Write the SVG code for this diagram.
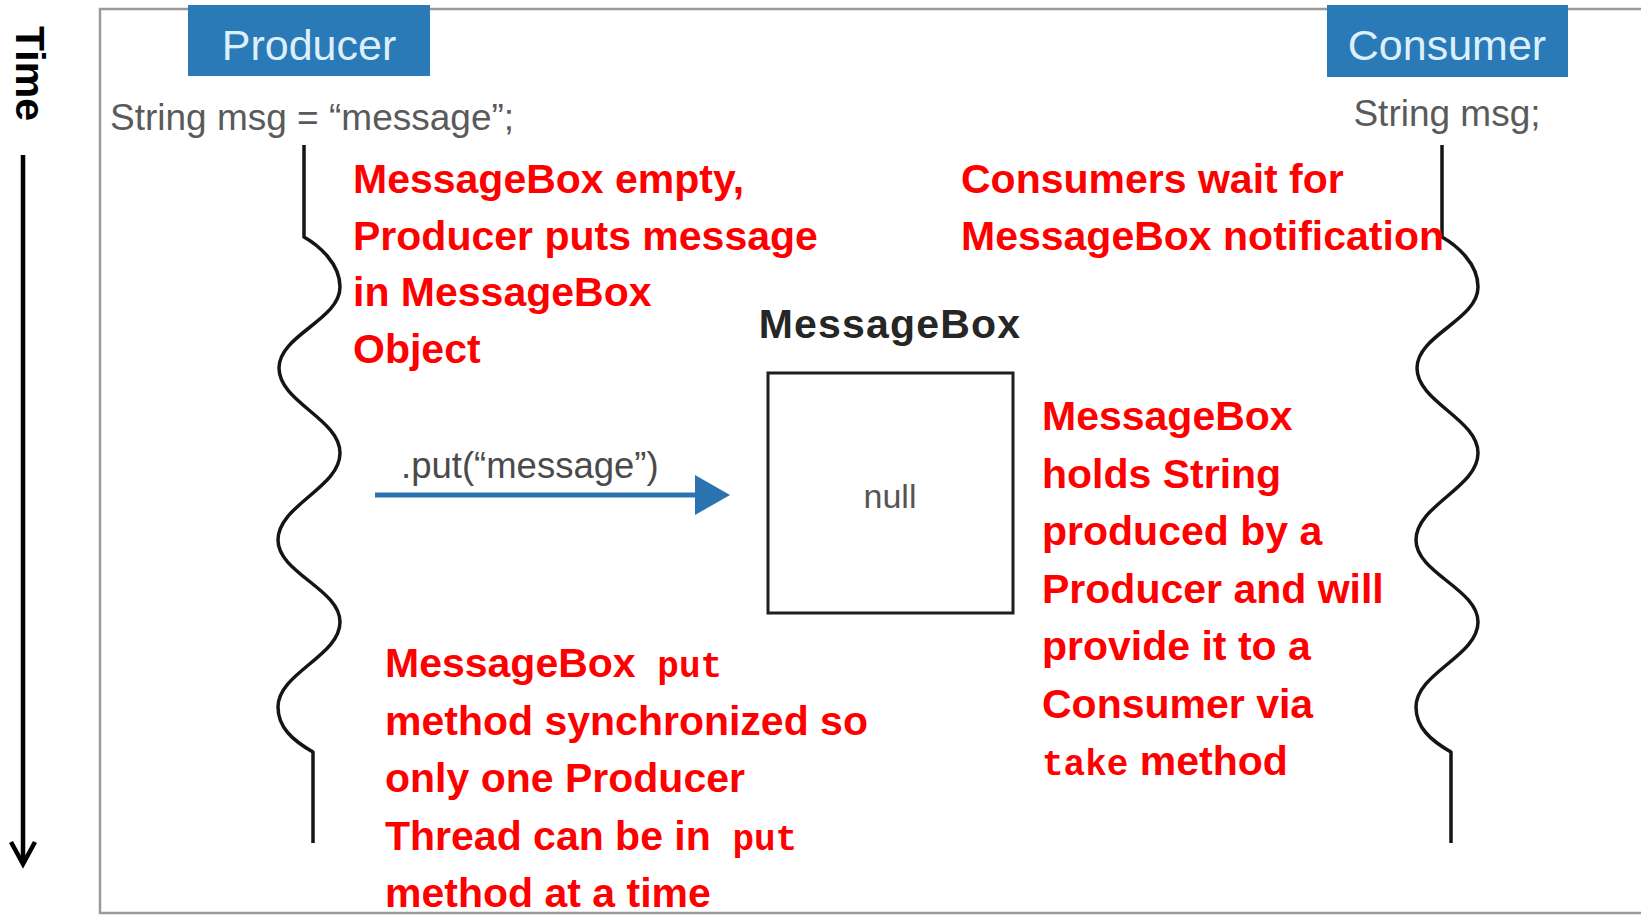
<svg xmlns="http://www.w3.org/2000/svg" xmlns:xlink="http://www.w3.org/1999/xlink" width="1641" height="916" viewBox="0 0 1641 916">
  <style>
    .frame { fill: #ffffff; stroke: #9a9a9a; stroke-width: 2.5; }
    .actor-box { fill: #2a7ab8; }
    .actor-label { font-family: "Liberation Sans", Arial, sans-serif; font-size: 43px; fill: #dcefFb; text-anchor: middle; }
    .code { font-family: "Liberation Sans", Arial, sans-serif; font-size: 37px; fill: #5a5a5a; }
    .lifeline { fill: none; stroke: #151515; stroke-width: 3.5; stroke-linejoin: round; }
    .note { font-family: "Liberation Sans", Arial, sans-serif; font-weight: bold; font-size: 41px; fill: #ff0000; }
    .mono { font-family: "Liberation Mono", "Courier New", monospace; font-weight: bold; font-size: 36px; }
    .box-title { font-family: "Liberation Sans", Arial, sans-serif; font-weight: bold; font-size: 41px; fill: #262626; letter-spacing: 1.2px; text-anchor: middle; }
    .box-value { font-family: "Liberation Sans", Arial, sans-serif; font-size: 34px; fill: #555555; text-anchor: middle; }
    .call-label { font-family: "Liberation Sans", Arial, sans-serif; font-size: 36.5px; fill: #4a4a4a; }
    .call-line { stroke: #2a72b0; stroke-width: 5; fill: none; }
    .axis { stroke: #000000; stroke-width: 4.5; fill: none; stroke-linecap: butt; }
  </style>
  <defs>
    <!-- wavy thread lifeline, drawn for the producer and shifted for the consumer -->
    <path id="thread-line" class="lifeline"
      d="M304,145 V237
         C318,245 340,263 340,287
         C340,320 279,335 279,368
         C279,402 340,419 340,453
         C340,488 278,505 278,540
         C278,573 340,589 340,622
         C340,656 278,673 278,707
         C278,727 292,740 313,752
         V843"/>
  </defs>

  <rect width="1641" height="916" fill="#ffffff"/>

  <!-- time axis on the left -->
  <g id="time-axis">
    <text x="0" y="0" transform="translate(16,26) rotate(90)" font-family="Liberation Sans, Arial, sans-serif" font-weight="bold" font-size="41" fill="#000">Time</text>
    <line class="axis" x1="23" y1="155" x2="23" y2="862"/>
    <polyline class="axis" points="11,842 23,864 35,842"/>
  </g>

  <!-- slide frame -->
  <rect id="frame" class="frame" x="100" y="9" width="1600" height="904"/>

  <g id="producer">
    <rect class="actor-box" x="188" y="5" width="242" height="71"/>
    <text class="actor-label" x="309" y="60">Producer</text>
    <text class="code" x="110" y="130">String msg = “message”;</text>
    <use xlink:href="#thread-line"/>
  </g>

  <g id="consumer">
    <rect class="actor-box" x="1327" y="5" width="241" height="72"/>
    <text class="actor-label" x="1447" y="60">Consumer</text>
    <text class="code" x="1447" y="126" text-anchor="middle">String msg;</text>
    <use xlink:href="#thread-line" transform="translate(1138,0)"/>
  </g>

  <g id="messagebox">
    <text class="box-title" x="890" y="338">MessageBox</text>
    <rect x="768" y="373" width="245" height="240" fill="#ffffff" stroke="#1e1e1e" stroke-width="3"/>
    <text class="box-value" x="890" y="508">null</text>
  </g>

  <g id="connectors">
    <line class="call-line" x1="375" y1="495" x2="697" y2="495"/>
    <polygon points="695,475 730,495 695,515" fill="#2a72b0"/>
    <text class="call-label" x="401" y="478">.put(“message”)</text>
  </g>

  <g id="note-producer">
    <text class="note" x="353">
      <tspan x="353" y="193">MessageBox empty,</tspan>
      <tspan x="353" y="249.5">Producer puts message</tspan>
      <tspan x="353" y="306">in MessageBox</tspan>
      <tspan x="353" y="362.5">Object</tspan>
    </text>
  </g>

  <g id="note-consumer">
    <text class="note" x="961">
      <tspan x="961" y="193">Consumers wait for</tspan>
      <tspan x="961" y="249.5">MessageBox notification</tspan>
    </text>
  </g>

  <g id="note-messagebox">
    <text class="note">
      <tspan x="1042" y="430">MessageBox</tspan>
      <tspan x="1042" y="487.5">holds String</tspan>
      <tspan x="1042" y="545">produced by a</tspan>
      <tspan x="1042" y="602.5">Producer and will</tspan>
      <tspan x="1042" y="660">provide it to a</tspan>
      <tspan x="1042" y="717.5">Consumer via</tspan>
      <tspan x="1042" y="775"><tspan class="mono">take</tspan> method</tspan>
    </text>
  </g>

  <g id="note-put">
    <text class="note">
      <tspan x="385" y="677">MessageBox<tspan class="mono"> put</tspan></tspan>
      <tspan x="385" y="734.5">method synchronized so</tspan>
      <tspan x="385" y="792">only one Producer</tspan>
      <tspan x="385" y="850">Thread can be in<tspan class="mono"> put</tspan></tspan>
      <tspan x="385" y="907">method at a time</tspan>
    </text>
  </g>
</svg>
